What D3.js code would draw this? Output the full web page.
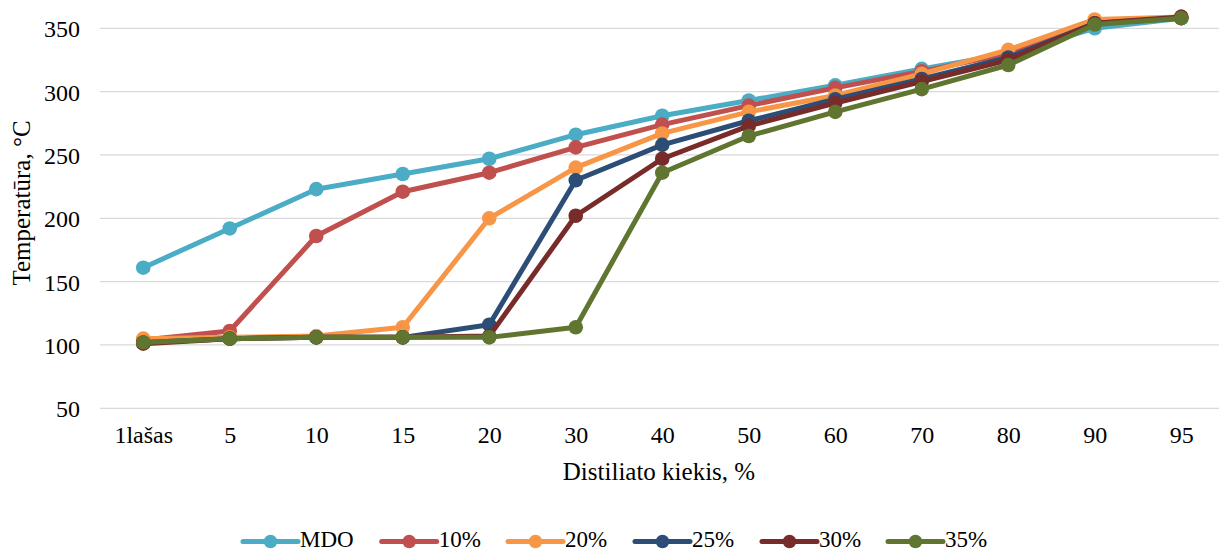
<!DOCTYPE html>
<html><head><meta charset="utf-8">
<script src="https://cdn.jsdelivr.net/npm/d3@7/dist/d3.min.js"></script>
<style>
html,body{margin:0;padding:0;background:#fff;}
svg{display:block;}
svg text{font-family:"Liberation Serif","Times New Roman",serif;}
</style></head>
<body>
<svg id="chart" width="1219" height="552"></svg>
<script>
const categories = ["1lašas","5","10","15","20","30","40","50","60","70","80","90","95"];
const seriesNames = ["MDO","10%","20%","25%","30%","35%"];
const mdo   = [161,192,223,235,247,266,281,293,305,318,330,350,358];
const p10   = [104,111,186,221,236,256,274,289,303,316,330,355,359];
const p20   = [105,106,107,114,200,240,267,284,297,314,333,357,359];
const p25   = [102,105,106,106,116,230,258,277,294,310,327,354,358];
const p30   = [101,105,106,106,107,202,247,273,291,308,325,354,359];
const p35   = [102,105,106,106,106,114,236,265,284,302,321,353,358];
const yTicks = [50,100,150,200,250,300,350];
const colors = ["#4BACC6","#C0504D","#F79646","#2C4D75","#772C2A","#5F7530"];
const seriesValues = [mdo,p10,p20,p25,p30,p35];

const FONT = "Liberation Serif";
const svg = d3.select("#chart");
const plotLeft = 100, plotRight = 1224.5, plotTop = 28.3, plotBottom = 408.3;
const step = (plotRight - plotLeft) / categories.length;
const x = d3.scalePoint().domain(categories).range([plotLeft + step/2, plotRight - step/2]);
const y = d3.scaleLinear().domain([50,350]).range([plotBottom, plotTop]);

// gridlines
svg.append("g").selectAll("line").data(yTicks).join("line")
  .attr("x1", plotLeft).attr("x2", plotRight)
  .attr("y1", d => y(d)).attr("y2", d => y(d))
  .attr("stroke", "#D9D9D9").attr("stroke-width", 1.3);

// y axis labels
const yAxis = svg.append("g").attr("transform", `translate(80,0)`)
  .call(d3.axisLeft(y).tickValues(yTicks).tickSize(0).tickPadding(0));
yAxis.attr("font-family", FONT).attr("font-size", 24);
yAxis.select(".domain").remove();
yAxis.selectAll("text").attr("fill", "#000").attr("dy", "0.35em");

// x axis labels
const xAxis = svg.append("g").attr("transform", `translate(0,${plotBottom})`)
  .call(d3.axisBottom(x).tickSize(0).tickPadding(0));
xAxis.attr("font-family", FONT).attr("font-size", 24);
xAxis.select(".domain").remove();
xAxis.selectAll("text").attr("fill", "#000").attr("dy", null).attr("y", 35);

// axis titles
svg.append("text").attr("x", 659).attr("y", 480).attr("text-anchor", "middle")
  .attr("font-family", FONT).attr("font-size", 25).attr("fill", "#000").text("Distiliato kiekis, %");
svg.append("text").attr("transform", "translate(30,203) rotate(-90)").attr("text-anchor", "middle")
  .attr("font-family", FONT).attr("font-size", 25).attr("fill", "#000").text("Temperatūra, °C");

// series
const line = d3.line().x((d,i) => x(categories[i])).y(d => y(d));
seriesValues.forEach((vals, si) => {
  const g = svg.append("g");
  g.append("path").attr("d", line(vals)).attr("fill", "none")
    .attr("stroke", colors[si]).attr("stroke-width", 5).attr("stroke-linejoin", "round").attr("stroke-linecap", "round");
  g.selectAll("circle").data(vals).join("circle")
    .attr("cx", (d,i) => x(categories[i])).attr("cy", d => y(d)).attr("r", 7.3)
    .attr("fill", colors[si]);
});

// legend
const legStarts = [243, 381.7, 508, 635, 762, 888];
const legY = 541.5;
seriesNames.forEach((name, i) => {
  const g = svg.append("g").attr("transform", `translate(${legStarts[i]},${legY})`);
  g.append("line").attr("x1", 0).attr("x2", 55).attr("y1", 0).attr("y2", 0)
    .attr("stroke", colors[i]).attr("stroke-width", 5).attr("stroke-linecap", "round");
  g.append("circle").attr("cx", 27.5).attr("cy", 0).attr("r", 6.8).attr("fill", colors[i]);
  g.append("text").attr("x", 57).attr("y", 5.5).attr("font-family", FONT).attr("font-size", 23).attr("fill", "#000").text(name);
});
</script>
</body></html>
